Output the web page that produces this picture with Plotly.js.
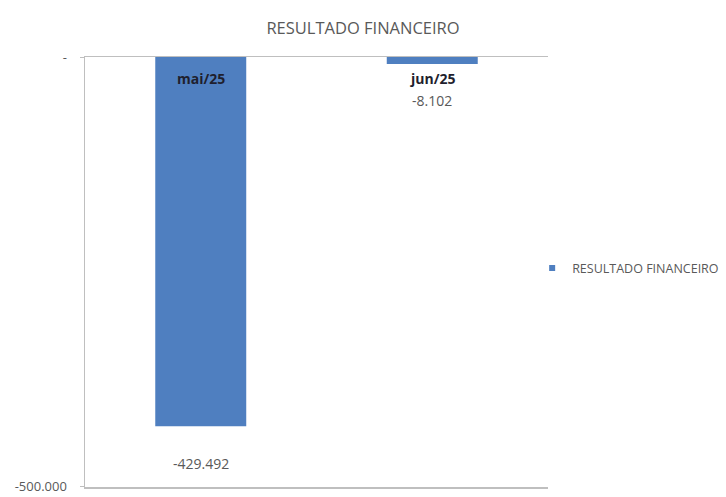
<!DOCTYPE html>
<html>
<head>
<meta charset="utf-8">
<script src="https://cdn.plot.ly/plotly-3.0.1.min.js"></script>
<style>
  html, body { margin: 0; padding: 0; background: #fff; }
  #chart { width: 726px; height: 497px; }
</style>
</head>
<body>
<div id="chart"></div>
<script>
  // Resultado financeiro por mês (valores em R$)
  var MONTHS = ["mai/25", "jun/25"];
  var RESULTADO = [-429492, -8102];
  var Y_TICKS = [0, -500000];
  var Y_TICK_TEXT = ["-", "-500.000"];
  var SERIES_NAME = "RESULTADO FINANCEIRO";

  var BAR = "#4f7fc0";
  var INK = "#595959";
  var AXIS = "#bfbfbf";
  var FONT = "'Open Sans', Lato, sans-serif";

  // pt-BR thousands separator, done by hand so it does not depend on ICU data
  function fmt(v) {
    var s = String(Math.abs(v)).replace(/\B(?=(\d{3})+(?!\d))/g, ".");
    return (v < 0 ? "-" : "") + s;
  }

  var traces = [{
    type: "bar",
    name: SERIES_NAME,
    x: MONTHS,
    y: RESULTADO,
    marker: { color: BAR },
    showlegend: false,
    hoverinfo: "x+y"
  }, {
    // legend-only entry so the key can be the small square Excel draws
    type: "scatter",
    mode: "markers",
    name: SERIES_NAME,
    x: [null],
    y: [null],
    marker: { symbol: "square", size: 6, color: BAR },
    showlegend: true
  }];

  // category labels hang just under the axis line at y = 0 (Excel style)
  var catLabels = MONTHS.map(function (m) {
    return {
      x: m, y: 0, xref: "x", yref: "y",
      text: "<b>" + m + "</b>",
      showarrow: false,
      yanchor: "middle",
      yshift: -21,
      font: { family: FONT, size: 14, color: "#1f1f2e" }
    };
  });

  // data labels sit below the bar end, past the category label
  var dataLabels = MONTHS.map(function (m, i) {
    return {
      x: m, y: RESULTADO[i], xref: "x", yref: "y",
      text: fmt(RESULTADO[i]),
      showarrow: false,
      yanchor: "middle",
      yshift: -37,
      font: { family: FONT, size: 14, color: INK }
    };
  });

  var layout = {
    width: 726,
    height: 497,
    // fixed margins: the legend must not squeeze the plot width
    margin: { l: 85, r: 178, t: 57, b: 10, autoexpand: false },
    paper_bgcolor: "#fff",
    plot_bgcolor: "#fff",
    font: { family: FONT, size: 12, color: INK },
    title: {
      text: "RESULTADO FINANCEIRO",
      font: { family: FONT, size: 16.5, color: INK },
      x: 0.5, xref: "container", xanchor: "center",
      y: 0.944, yref: "container", yanchor: "middle"
    },
    bargap: 0.607,
    showlegend: true,
    legend: {
      xref: "container", yref: "container",
      x: 0.733, xanchor: "left",
      y: 0.46, yanchor: "middle",
      font: { family: FONT, size: 12.5, color: INK },
      itemwidth: 30,
      bgcolor: "rgba(0,0,0,0)"
    },
    xaxis: {
      showticklabels: false,
      showline: true,
      mirror: true,
      linecolor: AXIS,
      linewidth: 1.5,
      ticks: "",
      showgrid: false,
      zeroline: false,
      fixedrange: true
    },
    yaxis: {
      // a hair past -500000 so the bottom tick is not dropped at the range edge
      range: [-500200, 0],
      tickvals: Y_TICKS,
      ticktext: Y_TICK_TEXT,
      ticks: "outside",
      ticklen: 4,
      tickcolor: AXIS,
      ticklabelstandoff: 10,
      ticklabeloverflow: "allow",
      showline: true,
      linecolor: AXIS,
      linewidth: 1.5,
      showgrid: false,
      zeroline: false,
      tickfont: { family: FONT, size: 13, color: INK },
      fixedrange: true
    },
    annotations: catLabels.concat(dataLabels)
  };

  Plotly.newPlot("chart", traces, layout, { displayModeBar: false, staticPlot: true });
</script>
</body>
</html>
